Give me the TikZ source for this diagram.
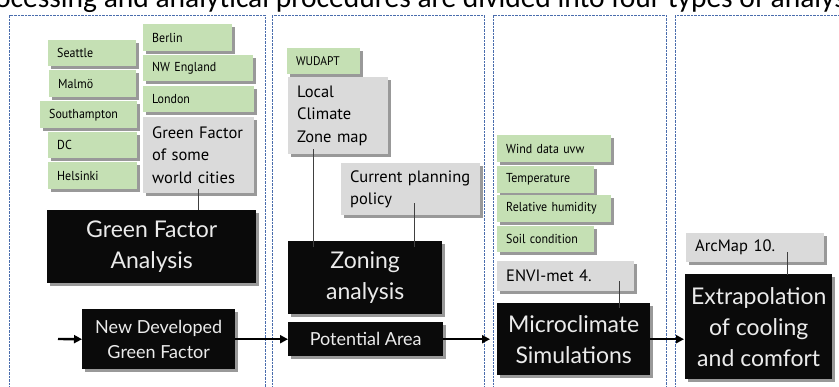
\documentclass[tikz,border=0pt]{standalone}
\usepackage{fontspec}
\setmainfont{PT Sans}
\newfontfamily\narrowfont{PT Sans}[FakeStretch=0.92]
\newfontfamily\latofont{Lato}
\newfontfamily\titlefont{Carlito}
\usetikzlibrary{shadows,arrows.meta}
\definecolor{gfill}{HTML}{C5E0B4}
\definecolor{grfill}{HTML}{DADADA}
\definecolor{bfill}{HTML}{0A0A0A}
\definecolor{framec}{HTML}{4A6DAD}
\begin{document}
\begin{tikzpicture}[x=1pt,y=-1pt,
 shd/.style={drop shadow={shadow xshift=2.5pt,shadow yshift=-2.5pt,opacity=0.4,fill=black}},
 gbox/.style={shd, fill=gfill, anchor=north west, inner xsep=9pt, inner ysep=0pt, align=left, font=\narrowfont\fontsize{13}{15}\selectfont},
 graybox/.style={shd, fill=grfill, anchor=north west, inner xsep=9pt, inner ysep=0pt, align=left, font=\fontsize{16.5}{22.5}\selectfont},
 bbox/.style={shd, fill=bfill, text=white!92!black, anchor=north west, inner sep=0pt, align=center, font=\latofont\fontsize{23}{31}\selectfont},
 bsmall/.style={bbox, font=\latofont\fontsize{18}{25}\selectfont},
 frame/.style={draw=framec, line width=0.9pt, dash pattern=on 2.5pt off 1pt},
 conn/.style={draw=black!75, line width=0.9pt},
 flow/.style={line width=2.4pt, -{Triangle[length=8pt,width=8pt]}}
]
\useasboundingbox (0,0) rectangle (839,386);
% title (cut at the top edge)
\node[anchor=base west, inner sep=0pt, font=\titlefont\fontsize{29.5}{30}\selectfont] (title) at (-5,7) {ocessing and analytical procedures are divided into four types of analys};
% dashed frames
\draw[frame] (9.5,15) rectangle (265,395);
\draw[frame] (272,15) rectangle (484,395);
\draw[frame] (493,15) rectangle (666,395);
\draw[frame] (675,15) rectangle (850,395);
% column 1
\node[gbox, text width=70pt, minimum height=26pt] (seattle) at (48,40) {\mbox{Seattle}};
\node[gbox, text width=69pt, minimum height=27pt] (malmo) at (49,70) {\mbox{Malmö}};
\node[gbox, text width=79pt, minimum height=27pt] (southampton) at (40,101) {\mbox{Southampton}};
\node[gbox, text width=71pt, minimum height=26pt] (dc) at (48,132) {\mbox{DC}};
\node[gbox, text width=71pt, minimum height=27pt] (helsinki) at (48,162) {\mbox{Helsinki}};
\node[gbox, text width=71pt, minimum height=27pt] (berlin) at (143,24) {\mbox{Berlin}};
\node[gbox, text width=92pt, minimum height=26pt] (nwengland) at (143,55) {\mbox{NW England}};
\node[gbox, text width=93pt, minimum height=26pt] (london) at (143,86) {\mbox{London}};
\node[graybox, text width=93pt, minimum height=76pt] (gfcities) at (143,117) {\mbox{Green Factor}\\\mbox{of some}\\\mbox{world cities}};
\node[bbox, minimum width=209pt, minimum height=73pt] (gfa) at (47,210) {Green Factor\\Analysis};
\node[bsmall, minimum width=153pt, minimum height=60pt] (ndgf) at (82,309) {New Developed\\Green Factor};
% column 2
\node[gbox, text width=55pt, minimum height=26pt, font=\narrowfont\fontsize{12.5}{15}\selectfont] (wudapt) at (287,48) {\mbox{WUDAPT}};
\node[graybox, text width=82pt, minimum height=77pt] (lcz) at (288,77) {\mbox{Local}\\\mbox{Climate}\\\mbox{Zone map}};
\node[graybox, text width=121pt, minimum height=52pt] (policy) at (341,163) {\mbox{Current planning}\\\mbox{policy}};
\node[bbox, minimum width=154pt, minimum height=73pt] (zoning) at (288,241) {Zoning\\analysis};
\node[bsmall, minimum width=155pt, minimum height=34pt] (potential) at (288,322) {Potential Area};
% column 3
\node[gbox, text width=96pt, minimum height=27pt] (wind) at (497,135) {\mbox{Wind data uvw}};
\node[gbox, text width=79pt, minimum height=27pt] (temp) at (497,166) {\mbox{Temperature}};
\node[gbox, text width=96pt, minimum height=27pt] (rh) at (497,195) {\mbox{Relative humidity}};
\node[gbox, text width=79pt, minimum height=26pt] (soil) at (497,226) {\mbox{Soil condition}};
\node[graybox, text width=119pt, minimum height=30pt] (envi) at (497,261) {\mbox{ENVI-met 4.}};
\node[bbox, minimum width=153pt, minimum height=72pt] (micro) at (497,303) {Microclimate\\Simulations};
% column 4
\node[graybox, text width=120pt, minimum height=29pt] (arcmap) at (686,233) {\mbox{ArcMap 10.}};
\node[bbox, minimum width=147pt, minimum height=105pt] (extrap) at (685,274) {Extrapolation\\of cooling\\and comfort};
% thin connectors
\draw[conn] ([yshift=4pt]gfcities.south) -- (gfcities.south |- gfa.north);
\coordinate (l1) at ([xshift=25pt,yshift=5pt]lcz.south west);
\draw[conn, shorten >=-6pt] (l1) -- (l1 |- zoning.north);
\coordinate (l2) at ([xshift=73pt,yshift=12pt]policy.south west);
\draw[conn, shorten >=-6pt] (l2) -- (l2 |- zoning.north);
\coordinate (l3) at ([xshift=122pt,yshift=10pt]envi.south west);
\draw[conn, shorten >=-5pt] (l3) -- (l3 |- micro.north);
\coordinate (l4) at ([xshift=101pt,yshift=10pt]arcmap.south west);
\draw[conn, shorten >=-1pt] (l4) -- (l4 |- extrap.north);
% flow arrows
\coordinate (start) at (58,339);
\draw[flow] (start) -- (ndgf.west);
\draw[flow] (ndgf.east) -- (potential.west);
\draw[flow, shorten >=7pt] (potential.east) -- (micro.west);
\draw[flow, shorten >=1pt] (micro.east) -- (micro.east -| extrap.west);
\end{tikzpicture}
\end{document}
